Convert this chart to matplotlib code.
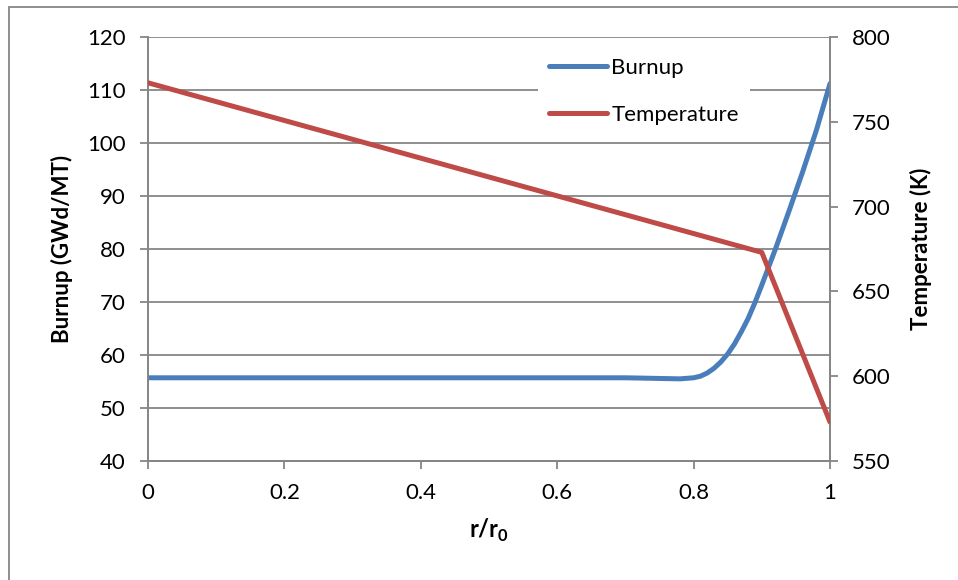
import matplotlib
matplotlib.use("Agg")
import matplotlib.pyplot as plt
from matplotlib.patches import Rectangle

plt.rcParams['font.family'] = ['Lato', 'DejaVu Sans']
plt.rcParams['mathtext.fontset'] = 'custom'
plt.rcParams['mathtext.rm'] = 'Lato'
plt.rcParams['mathtext.bf'] = 'Lato:bold'

# data
r_burnup = [0.0, 0.1, 0.2, 0.3, 0.4, 0.5, 0.6, 0.7, 0.74, 0.78, 0.80, 0.81, 0.82, 0.83,
            0.84, 0.85, 0.86, 0.87, 0.88, 0.89, 0.90, 0.92, 0.94, 0.96, 0.98, 1.0]
burnup = [55.7, 55.7, 55.7, 55.7, 55.7, 55.7, 55.7, 55.7, 55.6, 55.5, 55.7, 56.0, 56.6, 57.5,
          58.7, 60.2, 62.1, 64.4, 66.9, 69.9, 73.2, 80.0, 87.2, 94.6, 102.4, 111.2]

r_temp = [0.0, 0.9, 1.0]
temperature = [773, 673, 573]

x_ticks = [0, 0.2, 0.4, 0.6, 0.8, 1]
x_labels = ['0', '0.2', '0.4', '0.6', '0.8', '1']
left_ticks = [40, 50, 60, 70, 80, 90, 100, 110, 120]
right_ticks = [550, 600, 650, 700, 750, 800]

blue = '#4A7EBB'
red = '#BE4B48'
gray = '#868686'
fs = 16

fig = plt.figure(figsize=(9.58, 5.8), dpi=100)
ax = fig.add_axes([148/958, 1 - 461/580, 682/958, 424/580])
ax2 = ax.twinx()

ax.set_xlim(0, 1)
ax.set_ylim(40, 120)
ax2.set_ylim(550, 800)

ax.grid(axis='y', color=gray, lw=1.3)
ax.set_axisbelow(True)

l1, = ax.plot(r_burnup, burnup, color=blue, lw=3.6, solid_capstyle='round',
              solid_joinstyle='round', label='Burnup', zorder=3)
l2, = ax2.plot(r_temp, temperature, color=red, lw=3.6, solid_capstyle='round',
               label='Temperature', zorder=3)

ax.set_xticks(x_ticks)
ax.set_xticklabels(x_labels)
ax.set_yticks(left_ticks)
ax2.set_yticks(right_ticks)

for a in (ax, ax2):
    for s in a.spines.values():
        s.set_color(gray)
        s.set_linewidth(1.3)
    a.spines['top'].set_visible(False)
    a.tick_params(direction='out', length=6, width=1.3, color=gray,
                  labelsize=fs, pad=10, labelcolor='black')

ax.set_ylabel('Burnup (GWd/MT)', fontsize=fs, fontweight='bold', va='center')
ax.yaxis.set_label_coords(-0.126, 0.5)
ax2.set_ylabel('Temperature (K)', fontsize=fs, fontweight='bold', va='center')
ax2.yaxis.set_label_coords(1.133, 0.5)
ax.set_xlabel(r'$\mathbf{r/r}_\mathbf{0}$', fontsize=fs + 1, va='center')
ax.xaxis.set_label_coords(0.5, -0.163)

leg = ax2.legend(handles=[l1, l2], loc='upper left',
                 bbox_to_anchor=(527/958, 1 - 36/580), bbox_transform=fig.transFigure,
                 fontsize=fs, frameon=True, fancybox=False, framealpha=1,
                 handlelength=2.6, handletextpad=0.2, labelspacing=1.2, borderpad=0.5)
leg.get_frame().set_edgecolor('none')
leg.get_frame().set_facecolor('white')

fig.patches.append(Rectangle((9/958, -0.05), 1.0, 1 - 7/580 + 0.05,
                             transform=fig.transFigure, fill=False,
                             edgecolor=gray, lw=1.3))

fig.savefig('out.png', dpi=100)
